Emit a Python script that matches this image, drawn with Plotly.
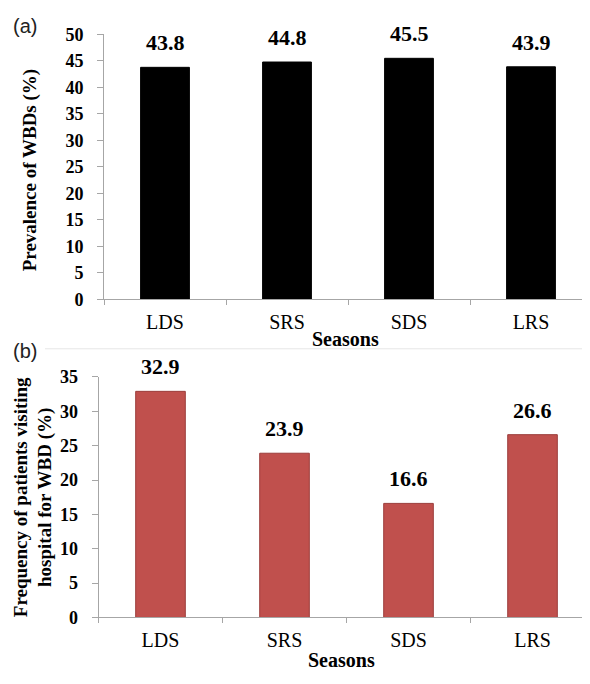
import plotly.graph_objects as go

seasons = ["LDS", "SRS", "SDS", "LRS"]
prevalence = [43.8, 44.8, 45.5, 43.9]
hospital_freq = [32.9, 23.9, 16.6, 26.6]
top_ticks = list(range(0, 55, 5))
bottom_ticks = list(range(0, 40, 5))

# the page body has an 8px margin, so the figure is 16px smaller than the window
PAGE_W, PAGE_H = 590, 684
OFF = 8
W, H = PAGE_W - 2 * OFF, PAGE_H - 2 * OFF
SERIF = "Liberation Serif, Times New Roman, serif"
SANS = "Liberation Sans, Arial, sans-serif"
AXIS_GRAY = "#a6a6a6"

def px_x(p):
    return (p - OFF) / W

def px_y(p):
    return 1 - (p - OFF) / H

fig = go.Figure()

fig.add_trace(go.Bar(
    x=seasons, y=prevalence, xaxis="x", yaxis="y",
    marker=dict(color="#000000", line=dict(color="#000000", width=1)),
    showlegend=False, hoverinfo="x+y",
))
fig.add_trace(go.Bar(
    x=seasons, y=hospital_freq, xaxis="x2", yaxis="y2",
    marker=dict(color="#C0504D", line=dict(color="#9B3D3B", width=1)),
    showlegend=False, hoverinfo="x+y",
))

annotations = []
for s, v in zip(seasons, prevalence):
    annotations.append(dict(
        x=s, y=v, xref="x", yref="y", text=f"{v:.1f}", showarrow=False,
        yanchor="bottom", yshift=10,
        font=dict(family=SERIF, size=22, color="#000000", weight="bold"),
    ))
for s, v in zip(seasons, hospital_freq):
    annotations.append(dict(
        x=s, y=v, xref="x2", yref="y2", text=f"{v:.1f}", showarrow=False,
        yanchor="bottom", yshift=10,
        font=dict(family=SERIF, size=22, color="#000000", weight="bold"),
    ))

annotations += [
    dict(x=px_x(30), y=px_y(165), xref="paper", yref="paper",
         text="Prevalence of WBDs (%)", textangle=-90, showarrow=False,
         xanchor="center", yanchor="middle",
         font=dict(family=SERIF, size=19, color="#000000", weight="bold")),
    dict(x=px_x(33), y=px_y(502), xref="paper", yref="paper",
         text="Frequency of patients visiting<br>hospital for WBD (%)",
         textangle=-90, showarrow=False, xanchor="center", yanchor="middle",
         font=dict(family=SERIF, size=19, color="#000000", weight="bold")),
    dict(x=px_x(345), y=px_y(339), xref="paper", yref="paper",
         text="Seasons", showarrow=False, xanchor="center", yanchor="middle",
         font=dict(family=SERIF, size=20, color="#000000", weight="bold")),
    dict(x=px_x(341), y=px_y(670), xref="paper", yref="paper",
         text="Seasons", showarrow=False, xanchor="center", yanchor="middle",
         font=dict(family=SERIF, size=20, color="#000000", weight="bold")),
    dict(x=px_x(25), y=px_y(16), xref="paper", yref="paper",
         text="(a)", showarrow=False, xanchor="center", yanchor="middle",
         font=dict(family=SANS, size=20, color="#222222")),
    dict(x=px_x(25), y=px_y(351), xref="paper", yref="paper",
         text="(b)", showarrow=False, xanchor="center", yanchor="middle",
         font=dict(family=SANS, size=20, color="#222222")),
]

xaxis_common = dict(
    type="category", showline=True, linecolor=AXIS_GRAY, linewidth=1,
    ticks="outside", tickson="boundaries", ticklen=5, tickcolor=AXIS_GRAY,
    tickfont=dict(family=SERIF, size=20, color="#000000"),
    showgrid=False, zeroline=False, fixedrange=True, ticklabelstandoff=5,
)
yaxis_common = dict(
    showline=True, linecolor=AXIS_GRAY, linewidth=1,
    ticks="outside", ticklen=6, tickcolor=AXIS_GRAY,
    tickfont=dict(family=SERIF, size=18, color="#000000", weight="bold"),
    showgrid=False, zeroline=False, fixedrange=True, ticklabelstandoff=10,
)

fig.update_layout(
    width=W, height=H,
    margin=dict(l=0, r=0, t=0, b=0),
    paper_bgcolor="white", plot_bgcolor="white",
    bargap=0.6,
    xaxis=dict(xaxis_common, domain=[px_x(104), 1.0], range=[-0.5, 3.418],
               anchor="y"),
    yaxis=dict(yaxis_common, domain=[px_y(298), px_y(25)], range=[0, 50],
               tickvals=top_ticks, anchor="x"),
    xaxis2=dict(xaxis_common, domain=[px_x(98.5), 1.0], range=[-0.5, 3.399],
                anchor="y2"),
    yaxis2=dict(yaxis_common, domain=[px_y(626), px_y(378)], range=[0, 35],
                tickvals=bottom_ticks, anchor="x2"),
    annotations=annotations,
    shapes=[
        dict(type="line", xref="paper", yref="paper",
             x0=px_x(45), x1=1.0, y0=px_y(349), y1=px_y(349),
             line=dict(color="#e6e6e6", width=1)),
    ],
)

fig.write_html("out.html")
